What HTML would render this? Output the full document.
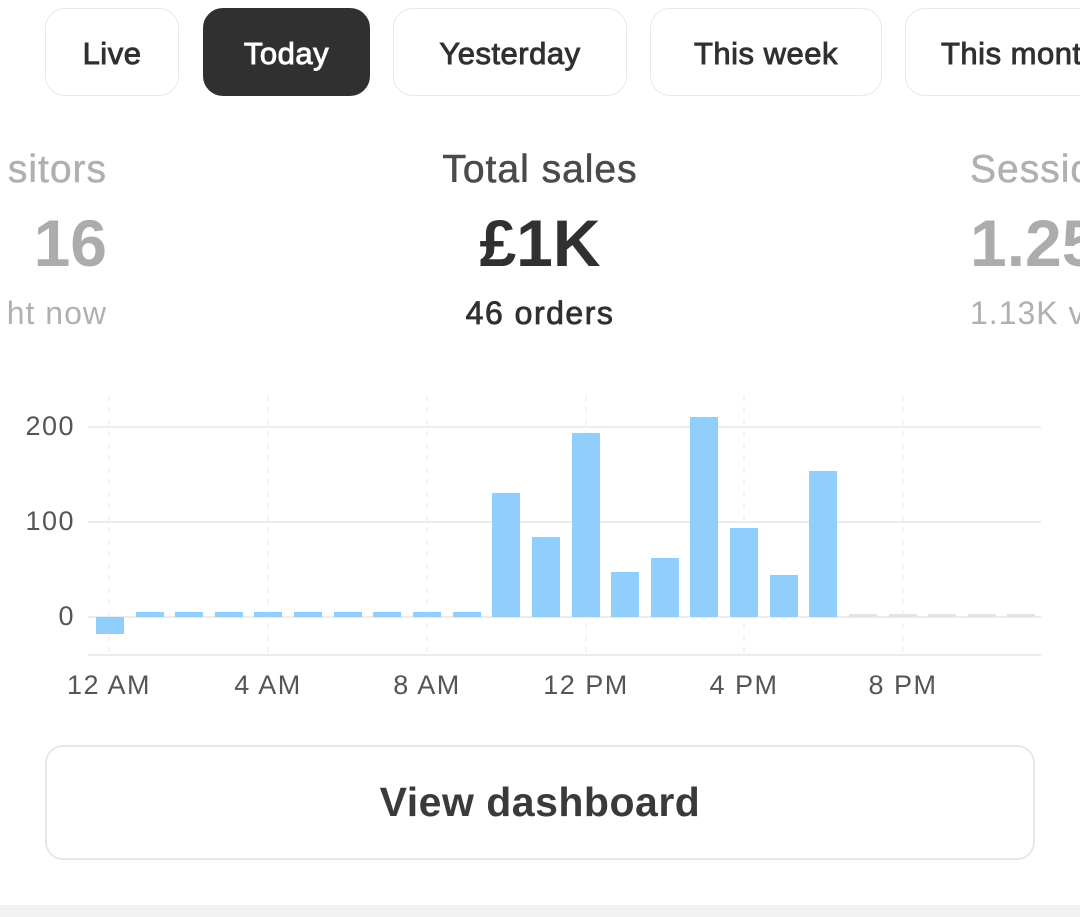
<!DOCTYPE html>
<html><head><meta charset="utf-8"><style>
html,body{margin:0;width:1080px;height:917px;overflow:hidden;}
#w{position:relative;width:1080px;height:917px;overflow:hidden;background:#fff;font-family:"Liberation Sans",sans-serif;}
.b{position:absolute;top:8px;height:88px;border:1px solid #e8e8e8;border-radius:20px;box-sizing:border-box;display:flex;align-items:center;justify-content:center;font-size:31px;color:#303030;letter-spacing:0.5px;-webkit-text-stroke:0.9px currentColor;padding-top:4px;white-space:nowrap;}
.t{position:absolute;white-space:nowrap;}
</style></head><body><div id="w">
<div class="b" style="left:45px;width:134px">Live</div>
<div class="b" style="left:203px;width:167px;background:#303030;color:#fff;border-color:#303030">Today</div>
<div class="b" style="left:393px;width:234px">Yesterday</div>
<div class="b" style="left:650px;width:232px">This week</div>
<div class="b" style="left:905px;width:175px;justify-content:flex-start;padding-left:35px;border-right:none;border-radius:20px 0 0 20px;overflow:hidden">This month</div>

<div class="t" style="right:973px;top:148px;font-size:39px;color:#b0b0b0;letter-spacing:1px;-webkit-text-stroke:0.5px currentColor">sitors</div>
<div class="t" style="right:973px;top:205px;font-size:66px;font-weight:bold;color:#acacac">16</div>
<div class="t" style="right:973px;top:295px;font-size:32px;color:#b0b0b0;letter-spacing:1px">ht now</div>

<div class="t" style="left:0;width:1080px;text-align:center;top:148px;font-size:39px;color:#4a4a4a;letter-spacing:1px;-webkit-text-stroke:0.6px currentColor">Total sales</div>
<div class="t" style="left:0;width:1080px;text-align:center;top:205px;font-size:66px;font-weight:bold;color:#303030">£1K</div>
<div class="t" style="left:0;width:1080px;text-align:center;top:295px;font-size:32px;color:#303030;letter-spacing:1.5px;-webkit-text-stroke:0.8px currentColor">46 orders</div>

<div class="t" style="left:970px;top:148px;font-size:39px;color:#b0b0b0;letter-spacing:1px;-webkit-text-stroke:0.5px currentColor">Sessions</div>
<div class="t" style="left:970px;top:205px;font-size:66px;font-weight:bold;color:#acacac">1.25K</div>
<div class="t" style="left:970px;top:295px;font-size:32px;color:#b0b0b0;letter-spacing:1px">1.13K visitors</div>

<svg style="position:absolute;left:0;top:0" width="1080" height="917">
<g stroke="#e6e6e6" stroke-width="1.5">
<line x1="88" x2="1041" y1="427" y2="427"/><line x1="88" x2="1041" y1="522" y2="522"/><line x1="88" x2="1041" y1="617" y2="617"/><line x1="88" x2="1041" y1="655" y2="655"/>
</g>
<g stroke="#ececec" stroke-width="1.2" stroke-dasharray="6,6">
<line x1="109" x2="109" y1="395" y2="655"/><line x1="268" x2="268" y1="395" y2="655"/><line x1="427" x2="427" y1="395" y2="655"/><line x1="586" x2="586" y1="395" y2="655"/><line x1="744" x2="744" y1="395" y2="655"/><line x1="903" x2="903" y1="395" y2="655"/>
</g>
<g fill="#92cefb">
<rect x="96" y="617" width="28" height="17"/>
<rect x="136" y="612" width="28" height="5"/><rect x="175" y="612" width="28" height="5"/><rect x="215" y="612" width="28" height="5"/><rect x="254" y="612" width="28" height="5"/><rect x="294" y="612" width="28" height="5"/><rect x="334" y="612" width="28" height="5"/><rect x="373" y="612" width="28" height="5"/><rect x="413" y="612" width="28" height="5"/><rect x="453" y="612" width="28" height="5"/>
<rect x="492" y="493" width="28" height="124"/>
<rect x="532" y="537" width="28" height="80"/>
<rect x="572" y="433" width="28" height="184"/>
<rect x="611" y="572" width="28" height="45"/>
<rect x="651" y="558" width="28" height="59"/>
<rect x="690" y="417" width="28" height="200"/>
<rect x="730" y="528" width="28" height="89"/>
<rect x="770" y="575" width="28" height="42"/>
<rect x="809" y="471" width="28" height="146"/>
</g>
<g fill="#e4e4e4">
<rect x="849" y="614" width="28" height="3"/><rect x="889" y="614" width="28" height="3"/><rect x="928" y="614" width="28" height="3"/><rect x="968" y="614" width="28" height="3"/><rect x="1007" y="614" width="28" height="3"/>
</g>
<g font-family="Liberation Sans, sans-serif" font-size="27" fill="#555" letter-spacing="1.5">
<text x="75" y="435" text-anchor="end">200</text><text x="75" y="530" text-anchor="end">100</text><text x="75" y="625" text-anchor="end">0</text>
<g text-anchor="middle"><text x="109" y="694">12 AM</text><text x="268" y="694">4 AM</text><text x="427" y="694">8 AM</text><text x="586" y="694">12 PM</text><text x="744" y="694">4 PM</text><text x="903" y="694">8 PM</text></g>
</g>
</svg>
<div style="position:absolute;left:45px;top:745px;width:990px;height:115px;box-sizing:border-box;border:2px solid #e8e8e8;border-radius:18px;display:flex;align-items:center;justify-content:center;font-size:41px;font-weight:bold;color:#3a3a3a;letter-spacing:0.5px">View dashboard</div>
<div style="position:absolute;left:0;top:905px;width:1080px;height:12px;background:#f1f1f1"></div>
</div></body></html>
